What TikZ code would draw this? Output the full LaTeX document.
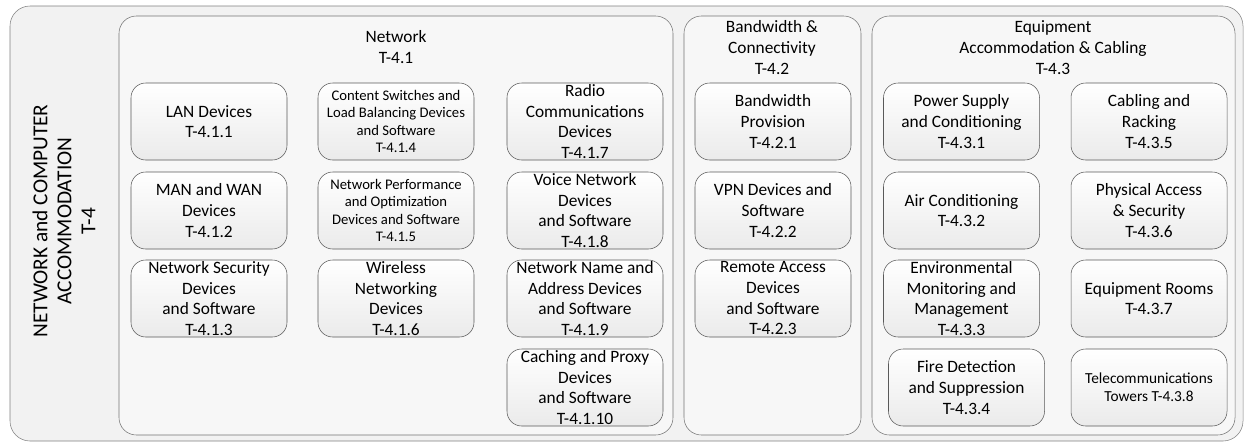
\documentclass[tikz,border=0pt]{standalone}
\usepackage{fontspec}
\setmainfont{Carlito}
\begin{document}
\begin{tikzpicture}[x=0.75pt,y=-0.75pt,
    frame/.style={draw=black!50,rounded corners=15pt,fill=black!5},
    grp/.style={draw=black!55,rounded corners=13pt,fill=black!3},
    item/.style={draw=black!65,rounded corners=11pt,top color=white,bottom color=black!8,
        minimum width=117pt,minimum height=57.75pt,align=center,inner sep=0pt,
        font=\fontsize{13}{15.5}\selectfont},
    smalltext/.style={font=\fontsize{11}{13}\selectfont},
    head/.style={align=center,inner sep=0pt,font=\fontsize{13}{15.75}\selectfont}]
    \useasboundingbox (0,0) rectangle (1244,443);
    % outer frame and the three groups
    \draw[frame] (10,6) rectangle (1243,441);
    \draw[grp] (119,16) rectangle (673,435);
    \draw[grp] (684,16) rectangle (861,435);
    \draw[grp] (872,16) rectangle (1235,435);
    \node[rotate=90,align=center,inner sep=0pt,font=\fontsize{16}{18}\selectfont] (top) at (64,221) {NETWORK and COMPUTER\\ACCOMMODATION\\T-4};
    \node[head] (net) at (396,47) {Network\\T-4.1};
    \node[head] (bw) at (772,48) {Bandwidth \&\\Connectivity\\T-4.2};
    \node[head] (eq) at (1053,48) {Equipment\\Accommodation \& Cabling\\T-4.3};
    % network
    \node[item] (lan) at (209,121.5) {LAN Devices\\T-4.1.1};
    \node[item] (man) at (209,210.5) {MAN and WAN\\Devices\\T-4.1.2};
    \node[item] (sec) at (209,298.5) {Network Security\\Devices\\and Software\\T-4.1.3};
    \node[item,smalltext] (csw) at (396,121.5) {Content Switches and\\Load Balancing Devices\\and Software\\T-4.1.4};
    \node[item,smalltext] (perf) at (396,210.5) {Network Performance\\and Optimization\\Devices and Software\\T-4.1.5};
    \node[item] (wls) at (396,298.5) {Wireless\\Networking\\Devices\\T-4.1.6};
    \node[item] (radio) at (585,121.5) {Radio\\Communications\\Devices\\T-4.1.7};
    \node[item] (voice) at (585,210.5) {Voice Network\\Devices\\and Software\\T-4.1.8};
    \node[item] (name) at (585,298.5) {Network Name and\\Address Devices\\and Software\\T-4.1.9};
    \node[item] (cache) at (585,387.5) {Caching and Proxy\\Devices\\and Software\\T-4.1.10};
    % bandwidth
    \node[item] (prov) at (773,121.5) {Bandwidth\\Provision\\T-4.2.1};
    \node[item] (vpn) at (773,210.5) {VPN Devices and\\Software\\T-4.2.2};
    \node[item] (remote) at (773,298.5) {Remote Access\\Devices\\and Software\\T-4.2.3};
    % equipment
    \node[item] (power) at (961.5,121.5) {Power Supply\\and Conditioning\\T-4.3.1};
    \node[item] (air) at (961.5,210.5) {Air Conditioning\\T-4.3.2};
    \node[item] (env) at (961.5,298.5) {Environmental\\Monitoring and\\Management\\T-4.3.3};
    \node[item] (fire) at (966.5,387.5) {Fire Detection\\and Suppression\\T-4.3.4};
    \node[item] (cab) at (1149,121.5) {Cabling and\\Racking\\T-4.3.5};
    \node[item] (phys) at (1149,210.5) {Physical Access\\\& Security\\T-4.3.6};
    \node[item] (rooms) at (1149,298.5) {Equipment Rooms\\T-4.3.7};
    \node[item,font=\fontsize{11.5}{13.5}\selectfont] (tower) at (1149,387.5) {Telecommunications\\Towers T-4.3.8};
\end{tikzpicture}
\end{document}
